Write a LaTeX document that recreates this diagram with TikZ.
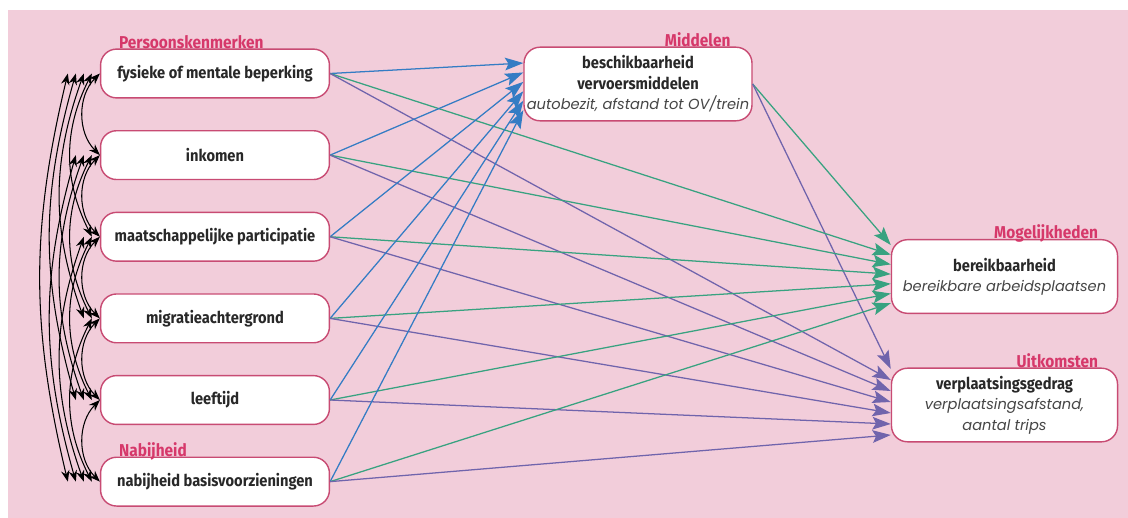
\documentclass[tikz,border=0pt]{standalone}
\usepackage{fontspec}
\setmainfont{Fira Sans}
\newfontfamily\headfont[FakeStretch=0.9]{Fira Sans}
\newfontfamily\notefont{Poppins}
\usepackage{tikz}
\usetikzlibrary{arrows.meta,positioning}
\usepackage{xcolor}
\definecolor{bgPink}{RGB}{242,205,218}
\definecolor{edgeRose}{RGB}{200,75,115}
\definecolor{labelRose}{RGB}{214,56,106}
\definecolor{arrBlue}{RGB}{52,124,196}
\definecolor{arrGreen}{RGB}{56,162,128}
\definecolor{arrPurple}{RGB}{112,100,172}
\definecolor{inkGray}{RGB}{40,40,40}
\definecolor{noteGray}{RGB}{70,70,70}
\newcommand{\notetext}[1]{{\notefont\mdseries\itshape\fontsize{10.4}{12}\selectfont\color{noteGray}#1}}

\begin{document}
\begin{tikzpicture}[
  x=0.025cm, y=-0.025cm,
  box/.style={rectangle, rounded corners=0.4cm, draw=edgeRose,
              line width=1pt, fill=white, text=inkGray, align=center,
              font=\headfont\bfseries\fontsize{11.6}{14.5}\selectfont},
  varbox/.style={box, minimum width=5.72cm, minimum height=1.22cm},
  bigbox/.style={box, minimum width=5.65cm, minimum height=1.84cm,
                 inner sep=2pt},
  grp/.style={text=labelRose, inner sep=0pt,
              font=\headfont\bfseries\fontsize{12.2}{14}\selectfont},
  corr/.style={{Stealth[length=8pt,width=6pt]}-{Stealth[length=8pt,width=6pt]},
               line width=0.75pt, black},
  eff/.style={-{Stealth[length=13pt,width=9pt,inset=2.5pt]},
              line width=0.9pt, draw=#1},
  node distance=0.785cm
]
  \useasboundingbox (0,0) rectangle (1128,518);
  \fill[bgPink] (8,10) rectangle (1128,518);

  % persoonskenmerken + nabijheid
  \node[varbox] (L1) at (215,73.5) {fysieke of mentale beperking};
  \node[varbox, below=of L1] (L2) {inkomen};
  \node[varbox, below=of L2] (L3) {maatschappelijke participatie};
  \node[varbox, below=of L3] (L4) {migratieachtergrond};
  \node[varbox, below=of L4] (L5) {leeftijd};
  \node[varbox, below=of L5] (L6) {nabijheid basisvoorzieningen};

  % middelen, mogelijkheden, uitkomsten
  \node[bigbox] (M) at (638,84)
    {beschikbaarheid\\vervoersmiddelen\\[0pt]\notetext{autobezit, afstand tot OV/trein}};
  \node[bigbox] (B) at (1004.5,276.5)
    {bereikbaarheid\\[0pt]\notetext{bereikbare arbeidsplaatsen}};
  \node[bigbox] (V) at (1004.5,405)
    {verplaatsingsgedrag\\[0pt]\notetext{verplaatsingsafstand,}\\\notetext{aantal trips}};

  \node[grp, anchor=base west] at ([xshift=0.475cm]L1.north west) {Persoonskenmerken};
  \node[grp, anchor=base west] at ([xshift=0.475cm]L6.north west) {Nabijheid};
  \node[grp, anchor=base east] at ([xshift=-0.55cm]M.north east) {Middelen};
  \node[grp, anchor=base east] at ([xshift=-0.5cm]B.north east) {Mogelijkheden};
  \node[grp, anchor=base east] at ([xshift=-0.5cm]V.north east) {Uitkomsten};

  % effects
  \draw[eff=arrGreen] (M.east) -- ([yshift=22.4pt]B.west);
  \draw[eff=arrPurple] (M.east) -- ([yshift=25.6pt]V.west);
  \foreach \i in {1,...,6}{
    \draw[eff=arrBlue] (L\i.east) -- ([yshift={14.9pt-6.69pt*(\i-1)}]M.west);
    \draw[eff=arrGreen] (L\i.east) -- ([yshift={22.4pt-6.9pt*\i}]B.west);
    \draw[eff=arrPurple] (L\i.east) -- ([yshift={25.6pt-7.82pt*\i}]V.west);
  }

  % correlations
  \foreach \i in {1,...,5}{
    \pgfmathtruncatemacro\nxt{\i+1}
    \foreach \j in {\nxt,...,6}{
      \pgfmathtruncatemacro\d{\j-\i}
      \pgfmathsetmacro\ang{45/(\d^0.75)}
      \draw[corr] ([xshift={-0.2cm*(\d-1)}]L\i.west)
        to[bend right=\ang] ([xshift={-0.2cm*(\d-1)}]L\j.west);
    }
  }
\end{tikzpicture}
\end{document}
